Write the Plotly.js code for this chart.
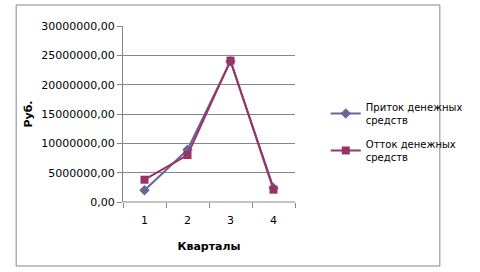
<!DOCTYPE html>
<html><head><meta charset="utf-8">
<script src="https://cdn.plot.ly/plotly-3.0.1.min.js"></script>
<style>html,body{margin:0;padding:0;background:#fff}</style>
</head><body>
<div id="chart" style="width:480px;height:272px"></div>
<script>
const quarters = ['1', '2', '3', '4'];
const inflow = [2000000, 8900000, 24000000, 2400000];
const outflow = [3800000, 8000000, 24100000, 2100000];
const seriesNames = ['Приток денежных<br>средств', 'Отток денежных<br>средств'];
const yTitle = 'Руб.';
const xTitle = 'Кварталы';

const font = 'DejaVu Sans, Verdana, sans-serif';
const L = 123, R = 313, T = 26, B = 202;
const W = R - L, H = B - T;
const px = v => (v - L) / W, py = v => (B - v) / H;

const traces = [
  {x: quarters, y: inflow, name: seriesNames[0], legendgroup: 'a', type: 'scatter', mode: 'lines+markers',
   line: {color: '#666699', width: 2}, marker: {symbol: 'diamond', size: 8, color: '#666699'}},
  {x: quarters, y: outflow, name: seriesNames[1], legendgroup: 'b', type: 'scatter', mode: 'lines+markers',
   line: {color: '#993366', width: 2}, marker: {symbol: 'square', size: 8, color: '#993366'}}
];

const layout = {
  width: 480, height: 272,
  margin: {l: L, r: 480 - R, t: T, b: 272 - B, pad: 0},
  paper_bgcolor: '#ffffff', plot_bgcolor: '#ffffff',
  separators: ', ',
  font: {family: font, size: 11, color: '#000'},
  showlegend: true,
  legend: {x: px(347), xanchor: 'left', y: py(94), yanchor: 'top',
           font: {family: font, size: 10, color: '#000'}, bgcolor: 'rgba(0,0,0,0)',
           itemwidth: 30, tracegroupgap: 8, traceorder: 'grouped'},
  xaxis: {type: 'category', range: [-0.5, 3.5], tickson: 'boundaries',
          ticks: 'outside', ticklen: 5, tickcolor: '#868686', tickwidth: 1,
          ticklabelstandoff: 10,
          showgrid: false, showline: false, zeroline: false,
          tickfont: {family: font, size: 11, color: '#000'},
          title: {text: '<b>' + xTitle + '</b>', font: {family: font, size: 11, color: '#000'}, standoff: 16}},
  yaxis: {range: [0, 30000000], dtick: 5000000, tick0: 0, tickformat: '.2f',
          ticks: 'outside', ticklen: 5, tickcolor: '#868686', tickwidth: 1,
          showgrid: true, gridcolor: '#868686', gridwidth: 1,
          showline: true, linecolor: '#868686', linewidth: 1, zeroline: false,
          tickfont: {family: font, size: 11, color: '#000'},
          title: {text: '<b>' + yTitle + '</b>', font: {family: font, size: 11, color: '#000'}, standoff: 6}},
  shapes: [
    {type: 'rect', xref: 'paper', yref: 'paper', x0: px(5), x1: px(473), y0: py(266), y1: py(5),
     line: {color: '#868686', width: 1}, fillcolor: 'rgba(0,0,0,0)', layer: 'below'},
    {type: 'line', xref: 'paper', yref: 'paper', x0: 0, x1: 1, y0: 0, y1: 0,
     line: {color: '#868686', width: 1}, layer: 'below'}
  ]
};

Plotly.newPlot('chart', traces, layout, {staticPlot: true, displayModeBar: false});
</script>
</body></html>
